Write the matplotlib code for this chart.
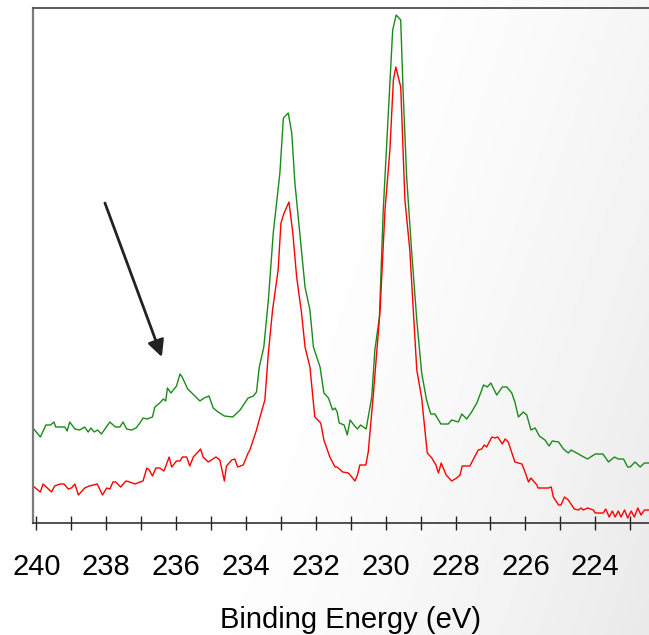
"""Sb 3d / O 1s region: two XPS spectra with offset baselines."""

import matplotlib

matplotlib.use("Agg")
import matplotlib.pyplot as plt
import numpy as np
from matplotlib.ticker import MultipleLocator

plt.rcParams.update(
    {
        "font.family": ["Liberation Sans", "DejaVu Sans"],
        "font.size": 21,
    }
)

COLOR_UPPER = "#1b8a1b"
COLOR_LOWER = "#ff0000"

# Upper trace (green): binding energy (eV) and intensity (arb. units)
upper_be = [
    240.10, 239.89, 239.73, 239.60, 239.50, 239.45, 239.19, 239.12, 239.05, 238.90,
    238.76, 238.62, 238.52, 238.44, 238.35, 238.25, 238.14, 237.90, 237.74, 237.61,
    237.52, 237.42, 237.28, 237.15, 237.04, 236.95, 236.83, 236.68, 236.61, 236.47,
    236.37, 236.30, 236.25, 236.15, 235.99, 235.89, 235.83, 235.67, 235.58, 235.32,
    235.20, 235.06, 234.94, 234.80, 234.62, 234.38, 234.17, 233.94, 233.79, 233.70,
    233.62, 233.49, 233.36, 233.22, 233.03, 232.93, 232.79, 232.69, 232.60, 232.46,
    232.31, 232.17, 232.07, 231.88, 231.77, 231.64, 231.52, 231.45, 231.39, 231.33,
    231.19, 231.10, 231.02, 230.91, 230.81, 230.72, 230.56, 230.40, 230.31, 230.18,
    230.07, 229.97, 229.80, 229.70, 229.57, 229.50, 229.40, 229.26, 229.11, 228.97,
    228.83, 228.71, 228.59, 228.42, 228.21, 228.11, 227.92, 227.82, 227.68, 227.54,
    227.39, 227.25, 227.20, 227.09, 226.99, 226.82, 226.66, 226.53, 226.39, 226.30,
    226.20, 226.06, 225.96, 225.84, 225.72, 225.60, 225.44, 225.32, 225.23, 225.05,
    224.91, 224.77, 224.69, 224.53, 224.38, 224.22, 224.00, 223.78, 223.62, 223.45,
    223.34, 223.19, 223.07, 223.00, 222.86, 222.71, 222.59, 222.46,
]
upper_counts = [
    95, 86, 98, 98, 101, 96, 96, 92, 101, 94,
    93, 96, 91, 95, 91, 93, 89, 101, 96, 96,
    101, 94, 93, 95, 100, 105, 104, 106, 116, 120,
    124, 122, 135, 130, 137, 149, 146, 134, 131, 122,
    125, 127, 115, 111, 107, 106, 113, 125, 127, 131,
    156, 176, 223, 290, 350, 405, 410, 390, 340, 290,
    236, 213, 176, 156, 130, 125, 113, 115, 111, 100,
    98, 88, 103, 98, 94, 98, 94, 126, 173, 206,
    313, 380, 493, 508, 503, 430, 346, 273, 203, 150,
    123, 109, 109, 99, 99, 103, 101, 109, 104, 111,
    120, 133, 138, 136, 140, 128, 136, 136, 130, 121,
    106, 111, 108, 93, 95, 87, 83, 77, 82, 81,
    74, 70, 73, 70, 67, 64, 69, 69, 61, 66,
    64, 64, 56, 56, 61, 56, 60, 60,
]

# Lower trace (red)
lower_be = [
    240.10, 239.89, 239.81, 239.57, 239.48, 239.33, 239.21, 239.09, 239.00, 238.90,
    238.80, 238.62, 238.49, 238.26, 238.11, 237.99, 237.90, 237.81, 237.73, 237.59,
    237.44, 237.33, 237.18, 237.04, 236.95, 236.84, 236.77, 236.68, 236.58, 236.47,
    236.35, 236.20, 236.13, 235.99, 235.89, 235.82, 235.70, 235.61, 235.51, 235.30,
    235.23, 235.08, 234.86, 234.75, 234.62, 234.56, 234.41, 234.32, 234.24, 234.08,
    233.94, 233.89, 233.70, 233.60, 233.46, 233.36, 233.24, 233.08, 233.00, 232.91,
    232.77, 232.66, 232.55, 232.41, 232.31, 232.17, 232.03, 231.86, 231.77, 231.60,
    231.45, 231.39, 231.23, 231.07, 230.97, 230.88, 230.81, 230.74, 230.57, 230.50,
    230.36, 230.16, 230.02, 229.88, 229.78, 229.71, 229.57, 229.45, 229.31, 229.11,
    228.97, 228.81, 228.68, 228.56, 228.49, 228.41, 228.27, 228.11, 227.97, 227.87,
    227.81, 227.59, 227.35, 227.25, 227.18, 227.11, 226.96, 226.87, 226.79, 226.66,
    226.58, 226.49, 226.30, 226.10, 226.03, 225.91, 225.84, 225.67, 225.64, 225.34,
    225.26, 225.20, 225.05, 224.98, 224.88, 224.77, 224.60, 224.48, 224.41, 224.34,
    224.22, 224.05, 224.00, 223.77, 223.70, 223.60, 223.51, 223.43, 223.34, 223.26,
    223.16, 223.07, 222.97, 222.88, 222.78, 222.69, 222.59, 222.46,
]
lower_counts = [
    37, 31, 39, 31, 37, 39, 39, 34, 35, 39,
    28, 35, 37, 39, 28, 35, 34, 41, 41, 36,
    42, 41, 39, 41, 42, 55, 53, 47, 55, 55,
    52, 66, 56, 62, 62, 66, 66, 57, 66, 74,
    66, 61, 66, 63, 42, 57, 63, 64, 56, 58,
    70, 73, 93, 106, 123, 170, 213, 253, 300, 310,
    321, 290, 246, 210, 176, 156, 106, 100, 83, 66,
    56, 56, 51, 50, 46, 42, 48, 58, 58, 71,
    126, 213, 313, 373, 443, 456, 436, 323, 273, 153,
    125, 70, 65, 58, 50, 60, 48, 42, 45, 48,
    57, 57, 73, 74, 78, 76, 86, 85, 86, 79,
    84, 81, 61, 59, 53, 41, 45, 38, 35, 35,
    36, 26, 18, 18, 26, 23, 14, 13, 15, 13,
    15, 13, 10, 10, 14, 6, 12, 6, 12, 6,
    13, 5, 12, 6, 15, 8, 13, 13,
]

XLIM = (240.1, 222.46)
YLIM = (0, 515)


def draw_background(fig):
    # soft grey wash towards the lower right corner
    bg = fig.add_axes([0, 0, 1, 1], zorder=-10)
    bg.axis("off")
    xx, yy = np.meshgrid(np.linspace(0, 1, 400), np.linspace(0, 1, 400))
    u = 0.75 * xx + 0.25 * yy
    shade = np.clip((u - 0.38) / 0.62, 0, 1) ** 1.6
    grey = 1.0 - 0.085 * shade
    bg.imshow(grey, cmap="gray", vmin=0, vmax=1, extent=(0, 1, 0, 1),
              aspect="auto", origin="upper", interpolation="bilinear")
    bg.set_xlim(0, 1)
    bg.set_ylim(0, 1)


def main():
    W, H = 649, 635
    fig = plt.figure(figsize=(W / 100, H / 100), dpi=100)
    draw_background(fig)

    left, right, top, bottom = 33, 649, 8, 523
    ax = fig.add_axes([left / W, 1 - bottom / H, (right - left) / W, (bottom - top) / H])
    ax.patch.set_alpha(0)

    ax.plot(upper_be, upper_counts, color=COLOR_UPPER, lw=1.0)
    ax.plot(lower_be, lower_counts, color=COLOR_LOWER, lw=1.0)

    ax.set_xlim(*XLIM)
    ax.set_ylim(*YLIM)

    ax.xaxis.set_major_locator(MultipleLocator(2))
    ax.xaxis.set_minor_locator(MultipleLocator(1))
    ax.tick_params(axis="x", which="both", direction="inout", length=9.5, width=1.0,
                   color="#222222", pad=17)
    ax.tick_params(axis="x", which="major", labelsize=21)
    ax.set_yticks([])

    ax.spines["right"].set_visible(False)
    ax.spines["left"].set_color("#7a7a7a")
    ax.spines["left"].set_linewidth(1.6)
    ax.spines["top"].set_color("#5a5a5a")
    ax.spines["top"].set_linewidth(1.4)
    ax.spines["bottom"].set_color("#333333")
    ax.spines["bottom"].set_linewidth(1.2)

    ax.set_xlabel("Binding Energy (eV)", fontsize=21)
    ax.xaxis.set_label_coords((351 - left) / (right - left), (bottom - 620) / (bottom - top))
    ax.xaxis.label.set_verticalalignment("center")

    # arrow pointing at the weak shoulder near 236 eV
    ax.annotate(
        "",
        xy=(236.41, 166),
        xytext=(238.04, 320),
        arrowprops=dict(arrowstyle="-|>", mutation_scale=25, lw=2.0,
                        color="#222222", shrinkA=0, shrinkB=0),
    )

    fig.savefig("out.png", dpi=100)
    plt.close(fig)


if __name__ == "__main__":
    main()
